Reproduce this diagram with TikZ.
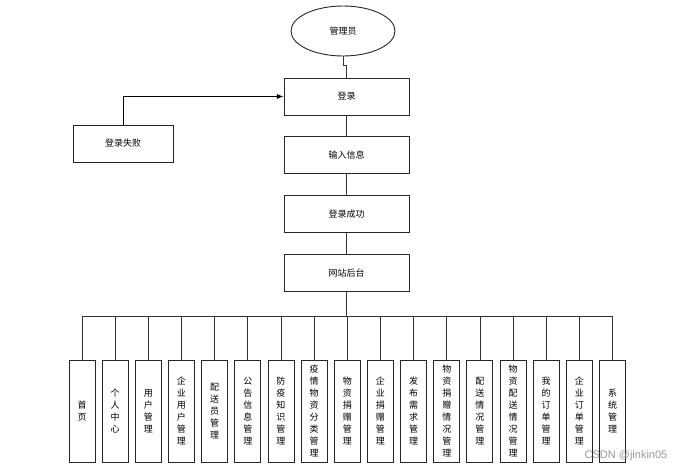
\documentclass[tikz,border=0pt]{standalone}
\usepackage{fontspec}
\newfontfamily\cjk{Noto Sans CJK SC}
\newfontfamily\wmfont{Liberation Sans}
\usetikzlibrary{shapes.geometric,arrows.meta,positioning}

\begin{document}
\begin{tikzpicture}[
  x=1pt, y=-1pt,
  font=\cjk\fontsize{9}{12}\selectfont,
  flow/.style={
    rectangle, draw=black!85, line width=0.9pt,
    minimum width=125pt, minimum height=37pt},
  leaf/.style={
    rectangle, draw=black!85, line width=0.9pt, inner sep=0pt,
    minimum width=26pt, minimum height=102pt, align=center},
  link/.style={draw=black!80, line width=0.8pt},
  arr/.style={-Latex, line width=0.8pt},
]
  \useasboundingbox (0,0) rectangle (691,473);

  \node[ellipse, draw=black!85, line width=0.9pt,
        minimum width=104pt, minimum height=50pt] (admin) at (343,31) {管理员};
  \node[flow] (login) at (346.5,96.5) {登录};
  \node[flow, below=21pt of login]  (input)   {输入信息};
  \node[flow, below=21pt of input]  (success) {登录成功};
  \node[flow, below=21pt of success] (backend) {网站后台};
  \node[flow, minimum width=100pt] (fail) at (123,143.5) {登录失败};

  \draw[link] (admin.south) -- ++(0,9) -| (login.north);
  \draw[link] (login)   -- (input);
  \draw[link] (input)   -- (success);
  \draw[link] (success) -- (backend);
  \draw[arr] (fail.north) |- (login.west);

  % function modules
  \foreach \t [count=\i] in {
      {首\\页}, {个\\人\\中\\心}, {用\\户\\管\\理}, {企\\业\\用\\户\\管\\理},
      {配\\送\\员\\管\\理}, {公\\告\\信\\息\\管\\理}, {防\\疫\\知\\识\\管\\理},
      {疫\\情\\物\\资\\分\\类\\管\\理}, {物\\资\\捐\\赠\\管\\理},
      {企\\业\\捐\\赠\\管\\理}, {发\\布\\需\\求\\管\\理},
      {物\\资\\捐\\赠\\情\\况\\管\\理}, {配\\送\\情\\况\\管\\理},
      {物\\资\\配\\送\\情\\况\\管\\理}, {我\\的\\订\\单\\管\\理},
      {企\\业\\订\\单\\管\\理}, {系\\统\\管\\理}}
    \node[leaf] (leaf\i) at ({82+(\i-1)*33.16},411) {\t};

  \coordinate (bus) at (346.5,316);
  \draw[link, line width=1.6pt] (backend.south) -- (bus);
  \draw[link] (leaf1.north |- bus) -- (leaf17.north |- bus);
  \foreach \i in {1,...,17}
    \draw[link] (leaf\i.north) -- (leaf\i.north |- bus);

  \node[text=black!40, font=\wmfont\fontsize{11}{11}\selectfont]
    (mark) at (626,456) {CSDN @jinkin05};
\end{tikzpicture}
\end{document}
